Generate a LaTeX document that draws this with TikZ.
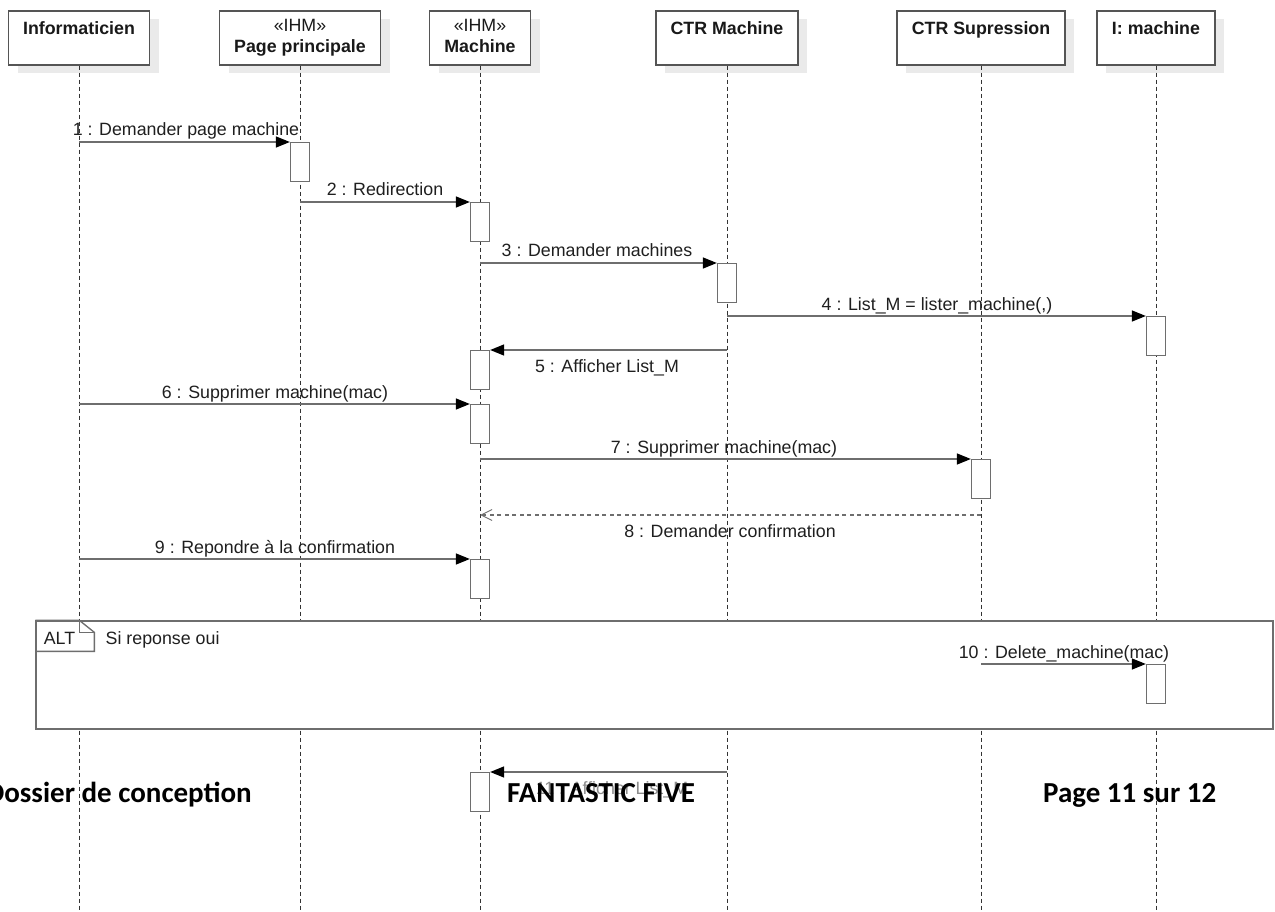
\documentclass[tikz,border=0pt]{standalone}
\usepackage{fontspec}
\setmainfont{Liberation Sans}
\newfontfamily\footfont{Carlito}
\usetikzlibrary{arrows.meta,shadows}
\definecolor{linegray}{HTML}{6E6E6E}
\definecolor{boxgray}{HTML}{555555}
\definecolor{shadowgray}{HTML}{EAEAEA}
\definecolor{lifegray}{HTML}{333333}
\begin{document}
\begin{tikzpicture}[x=1pt,y=-1pt,
  hdr/.style={draw=boxgray, line width=1.3pt, fill=white, minimum height=54pt, inner sep=0pt,
    drop shadow={shadow xshift=9pt, shadow yshift=-8pt, fill=shadowgray, opacity=1}},
  htxt/.style={font=\fontsize{17.8}{20}\selectfont, inner sep=0pt, anchor=base, text=black!90},
  hbold/.style={htxt, font=\bfseries\fontsize{17.8}{20}\selectfont},
  lifeline/.style={draw=lifegray, line width=0.9pt, dash pattern=on 4pt off 3pt},
  act/.style={draw=linegray, line width=1.3pt, fill=white, minimum width=19pt, minimum height=39pt, inner sep=0pt, anchor=north},
  msg/.style={draw=linegray, line width=1.4pt, -{Triangle[length=14pt,width=11pt,color=black,fill=black]}},
  ret/.style={draw=linegray, line width=1.2pt, dash pattern=on 4pt off 3.5pt, -{Straight Barb[length=11pt,width=11pt,line width=1pt]}},
  lbl/.style={font=\fontsize{17.8}{20}\selectfont, inner sep=0pt, anchor=base, text=black!88},
  foot/.style={font=\footfont\bfseries\fontsize{29}{32}\selectfont, inner sep=0pt, anchor=base, text=black}
]
\fill[white] (0,0) rectangle (1275,912);
\useasboundingbox (0,0) rectangle (1275,912);

% header boxes
\node[hdr, minimum width=141pt] (h1) at (79,38) {};
\node[hdr, minimum width=161pt] (h2) at (300,38) {};
\node[hdr, minimum width=101pt] (h3) at (480,38) {};
\node[hdr, minimum width=142pt] (h4) at (727,38) {};
\node[hdr, minimum width=168pt] (h5) at (981,38) {};
\node[hdr, minimum width=118pt] (h6) at (1156,38) {};

\node[hbold] (t1) at (79,35) {Informaticien};
\node[htxt] (s2) at (300,32) {«IHM»};
\node[hbold] (t2) at (300,53) {Page principale};
\node[htxt] (s3) at (480,32) {«IHM»};
\node[hbold] (t3) at (480,53) {Machine};
\node[hbold] (t4) at (727,35) {CTR Machine};
\node[hbold] (t5) at (981,35) {CTR Supression};
\node[hbold] (t6) at (1156,35) {I: machine};

% lifelines
\foreach \h in {h1,h2,h3,h4,h5,h6}{
  \draw[lifeline] (\h.south) -- (\h.south |- 0,912);
}

% combined fragment
\node[draw=linegray, line width=1.3pt, fill=white, minimum width=1237pt, minimum height=108pt, inner sep=0pt] (alt) at (654.5,675) {};
\draw[linegray, line width=1.3pt] (alt.north west) -- ++(44,0) -- ++(15,12) -- ++(0,19) -- ++(-59,0);
\draw[linegray, line width=1.1pt] ([xshift=44pt]alt.north west) -- ++(0,12) -- ++(15,0);
\node[lbl] (altlbl) at (59.5,644) {ALT};
\node[lbl, anchor=base west] (cond) at (105.5,644) {Si reponse oui};

% activations
\node[act] (a1) at (300,142) {};
\node[act] (a2) at (480,202) {};
\node[act] (a3) at (727,263) {};
\node[act] (a4) at (1156,316) {};
\node[act] (a5) at (480,350) {};
\node[act] (a6) at (480,404) {};
\node[act] (a7) at (981,459) {};
\node[act] (a9) at (480,559) {};
\node[act] (a10) at (1156,664) {};
\node[act] (a11) at (480,772) {};

\coordinate (m8s) at (981,515);
\coordinate (m8e) at (480,515);

% messages
\draw[msg] (h1 |- a1.north) -- (a1.north west);
\draw[msg] (h2 |- a2.north) -- (a2.north west);
\draw[msg] (h3 |- a3.north) -- (a3.north west);
\draw[msg] (h4 |- a4.north) -- (a4.north west);
\draw[msg] (h4 |- a5.north) -- (a5.north east);
\draw[msg] (h1 |- a6.north) -- (a6.north west);
\draw[msg] (h3 |- a7.north) -- (a7.north west);
\draw[ret] (m8s) -- (m8e);
\draw[msg] (h1 |- a9.north) -- (a9.north west);
\draw[msg] (h5 |- a10.north) -- (a10.north west);
\draw[msg] (h4 |- a11.north) -- (a11.north east);

% labels
\node[lbl] (l1) at (186,136) {1 : Demander page machine};
\node[lbl] (l2) at (385,195.5) {2 : Redirection};
\node[lbl] (l3) at (597,257) {3 : Demander machines};
\node[lbl] (l4) at (937,310) {4 : List\_M = lister\_machine(,)};
\node[lbl] (l5) at (607,372) {5 : Afficher List\_M};
\node[lbl] (l6) at (275,398) {6 : Supprimer machine(mac)};
\node[lbl] (l7) at (724,453) {7 : Supprimer machine(mac)};
\node[lbl] (l8) at (730,537) {8 : Demander confirmation};
\node[lbl] (l9) at (275,553) {9 : Repondre à la confirmation};
\node[lbl] (l10) at (1064,658) {10 : Delete\_machine(mac)};
\node[lbl, text=black!45] (l11) at (612,794) {11 : Afficher List\_M};

% footer
\node[foot, anchor=base east] (f1) at (252,802) {Dossier de conception};
\node[foot] (f2) at (601,802) {FANTASTIC FIVE};
\node[foot, anchor=base west] (f3) at (1043,802) {Page 11 sur 12};
\end{tikzpicture}
\end{document}
